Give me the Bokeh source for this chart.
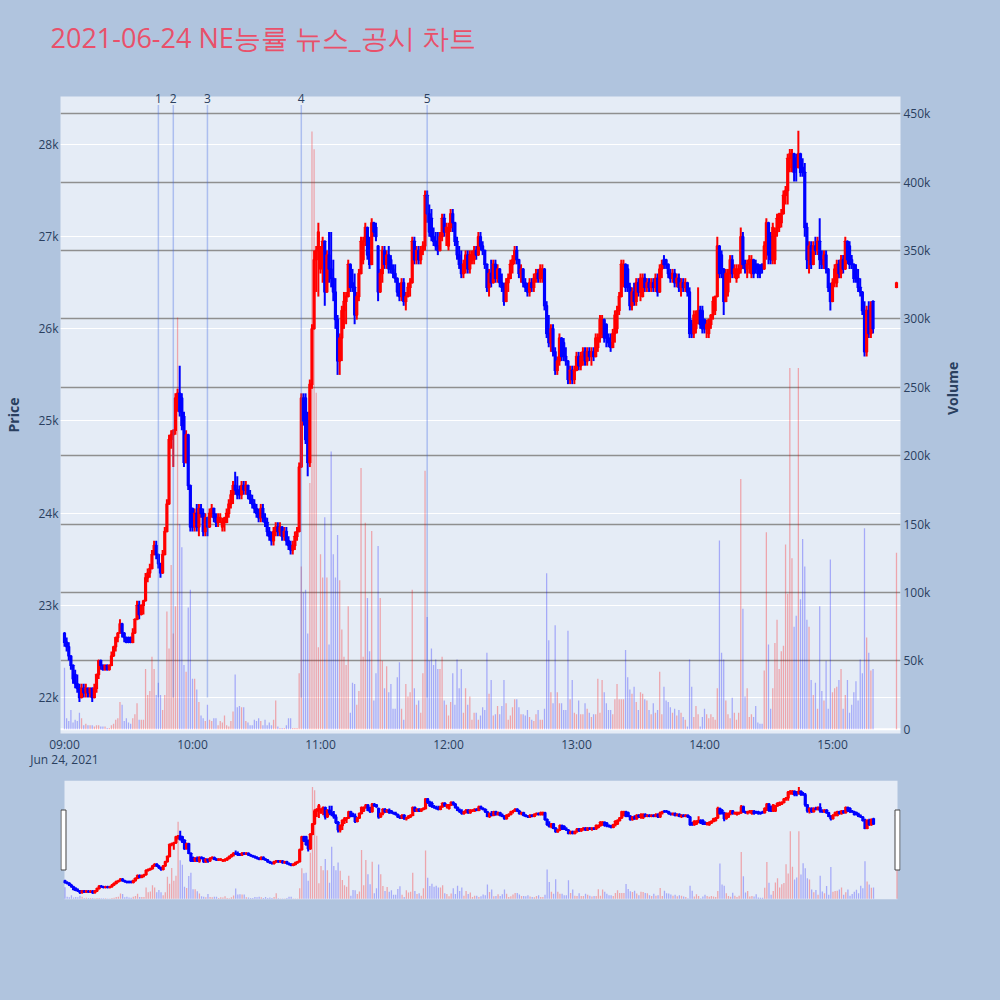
import math
import pandas as pd
from bokeh.plotting import figure
from bokeh.models import (Range1d, LinearAxis, FixedTicker, Grid, DatetimeTickFormatter,
                          ColumnDataSource, BoxAnnotation, Span)
from bokeh.layouts import column
from bokeh.embed import file_html
from bokeh.resources import INLINE

title_text = "2021-06-24 NE능률 뉴스_공시 차트"
trade_date = "2021-06-24"
date_label = "Jun 24, 2021"
session_start = "09:00"

# minute offsets from 09:00 (continuous trading 09:00-15:19, closing auction 15:30)
minute_offsets = list(range(380)) + [390]

opens = [
    22700, 22600, 22550, 22450, 22350, 22250, 22150, 22100, 22000, 22100,
    22050, 22100, 22050, 22100, 22000, 22100, 22250, 22400, 22350, 22300,
    22350, 22300, 22350, 22450, 22550, 22650, 22700, 22800, 22700, 22650,
    22650, 22650, 22600, 22700, 22850, 23000, 22900, 23000, 23050, 23300,
    23350, 23400, 23550, 23650, 23550, 23450, 23350, 23550, 23800, 24100,
    24800, 24850, 24900, 25250, 25300, 25250, 25050, 24550, 24850, 24300,
    24050, 23850, 24000, 23850, 24050, 24000, 23800, 23950, 23850, 24000,
    24050, 23950, 23900, 23900, 23850, 23900, 23900, 24000, 24100, 24200,
    24300, 24250, 24250, 24200, 24300, 24250, 24300, 24200, 24150, 24100,
    24050, 24000, 23950, 24050, 23950, 23900, 23800, 23750, 23700, 23800,
    23850, 23800, 23850, 23750, 23800, 23700, 23650, 23600, 23650, 23750,
    23800, 24500, 25250, 25250, 25000, 24550, 25400, 26000, 26750, 26850,
    26650, 26850, 26950, 26400, 26800, 26650, 26550, 26400, 26100, 25650,
    25900, 26200, 26300, 26350, 26700, 26500, 26450, 26150, 26350, 26600,
    26750, 26950, 27100, 26800, 26700, 27150, 27100, 26900, 26400, 26600,
    26850, 26700, 26800, 26750, 26650, 26600, 26550, 26400, 26350, 26500,
    26300, 26350, 26450, 26500, 26950, 26750, 26850, 26750, 26850, 26900,
    27450, 27250, 27200, 27000, 26950, 26900, 26850, 27000, 27200, 27050,
    26900, 27100, 27250, 27150, 26950, 26800, 26700, 26600, 26700, 26800,
    26650, 26750, 26750, 26850, 26800, 27000, 26900, 26850, 26700, 26450,
    26600, 26500, 26700, 26550, 26650, 26500, 26450, 26300, 26500, 26550,
    26700, 26750, 26850, 26750, 26600, 26650, 26500, 26450, 26400, 26500,
    26450, 26550, 26600, 26550, 26550, 26650, 26250, 25950, 25850, 26000,
    25750, 25550, 25650, 25900, 25850, 25700, 25650, 25450, 25550, 25450,
    25550, 25700, 25600, 25700, 25750, 25650, 25750, 25700, 25750, 25700,
    25800, 25900, 25950, 26100, 26050, 25900, 25850, 25800, 25950, 26000,
    26200, 26350, 26500, 26700, 26650, 26450, 26250, 26400, 26300, 26500,
    26400, 26350, 26550, 26450, 26500, 26450, 26500, 26450, 26550, 26400,
    26650, 26750, 26750, 26700, 26600, 26550, 26600, 26500, 26550, 26450,
    26500, 26450, 26500, 26400, 26050, 25950, 26000, 26100, 26200, 26200,
    26100, 26000, 25950, 26050, 26150, 26200, 26350, 26900, 26800, 26650,
    26300, 26400, 26600, 26750, 26600, 26550, 26600, 26650, 27000, 26700,
    26650, 26700, 26600, 26750, 26700, 26700, 26650, 26700, 26650, 26900,
    27150, 27000, 26750, 26750, 27050, 27100, 27150, 27250, 27450, 27500,
    27850, 27750, 27900, 27850, 27750, 27900, 27750, 27700, 27100, 26750,
    26900, 26700, 26900, 26850, 26950, 26750, 26700, 26800, 26650, 26450,
    26300, 26500, 26500, 26700, 26600, 26750, 26650, 26950, 26900, 26750,
    26700, 26650, 26550, 26450, 26400, 26200, 25750, 26200, 25950, 26300,
    26450,
]

highs = [
    22700, 22650, 22600, 22450, 22350, 22300, 22250, 22150, 22150, 22150,
    22150, 22100, 22100, 22100, 22150, 22250, 22400, 22400, 22350, 22350,
    22350, 22350, 22500, 22550, 22650, 22700, 22850, 22800, 22700, 22650,
    22650, 22650, 22750, 22850, 23050, 23050, 23000, 23050, 23350, 23400,
    23450, 23600, 23700, 23700, 23550, 23450, 23600, 23850, 24150, 24850,
    24900, 24900, 25300, 25350, 25600, 25300, 25100, 24900, 24850, 24300,
    24050, 24050, 24100, 24100, 24100, 24050, 24000, 23950, 24050, 24100,
    24050, 24000, 24000, 24000, 23950, 23950, 24050, 24150, 24250, 24350,
    24450, 24400, 24300, 24350, 24350, 24350, 24300, 24250, 24200, 24150,
    24100, 24050, 24100, 24100, 24000, 23950, 23850, 23800, 23850, 23900,
    23900, 23900, 23850, 23850, 23850, 23750, 23700, 23700, 23800, 23850,
    24550, 25300, 25300, 25300, 25100, 25450, 26050, 26850, 26900, 27150,
    26900, 27000, 26950, 26850, 27050, 27050, 26750, 26550, 26150, 25950,
    26250, 26400, 26400, 26750, 26700, 26650, 26600, 26400, 26650, 27000,
    27000, 27150, 27100, 27000, 27200, 27150, 27150, 26900, 26650, 26900,
    26900, 26850, 26900, 26800, 26700, 26700, 26550, 26500, 26550, 26550,
    26400, 26500, 26550, 27000, 27000, 26900, 26900, 26900, 26950, 27500,
    27500, 27350, 27300, 27100, 27050, 27050, 27050, 27250, 27250, 27150,
    27150, 27300, 27300, 27150, 27000, 26900, 26850, 26750, 26850, 26850,
    26850, 26850, 26900, 26900, 27050, 27050, 26950, 26850, 26700, 26650,
    26750, 26750, 26750, 26700, 26650, 26600, 26500, 26550, 26600, 26750,
    26800, 26900, 26900, 26750, 26700, 26650, 26550, 26500, 26550, 26550,
    26600, 26650, 26650, 26700, 26700, 26650, 26300, 26150, 26050, 26050,
    25800, 25700, 25950, 25900, 25900, 25800, 25650, 25600, 25600, 25600,
    25750, 25750, 25750, 25800, 25800, 25800, 25800, 25800, 25800, 25950,
    25950, 26150, 26150, 26100, 26050, 25950, 25950, 26000, 26200, 26250,
    26400, 26750, 26750, 26700, 26700, 26500, 26450, 26500, 26550, 26550,
    26600, 26600, 26600, 26550, 26550, 26550, 26550, 26600, 26600, 26700,
    26750, 26800, 26750, 26700, 26650, 26650, 26650, 26600, 26600, 26550,
    26550, 26550, 26500, 26450, 26100, 26200, 26200, 26450, 26250, 26250,
    26100, 26100, 26100, 26150, 26350, 26350, 27000, 26900, 26850, 26650,
    26650, 26650, 26800, 26800, 26700, 26700, 26700, 27100, 27050, 26750,
    26750, 26800, 26800, 26750, 26750, 26700, 26700, 26700, 26950, 27200,
    27150, 27050, 27150, 27100, 27250, 27250, 27300, 27500, 27550, 27900,
    27950, 27950, 27900, 27900, 28150, 27900, 27850, 27800, 27150, 26950,
    26950, 26950, 27000, 27000, 27200, 26850, 26850, 26850, 26650, 26500,
    26550, 26700, 26750, 26750, 26800, 26800, 27000, 26950, 26950, 26800,
    26700, 26700, 26650, 26550, 26400, 26300, 26250, 26300, 26300, 26300,
    26500,
]

lows = [
    22550, 22500, 22400, 22300, 22150, 22100, 22050, 21950, 22000, 22000,
    22000, 22000, 22000, 21950, 22000, 22050, 22200, 22300, 22300, 22300,
    22300, 22300, 22350, 22450, 22500, 22600, 22700, 22650, 22600, 22600,
    22600, 22600, 22600, 22700, 22850, 22850, 22900, 22900, 23050, 23250,
    23300, 23400, 23550, 23500, 23400, 23300, 23350, 23550, 23800, 24100,
    24700, 24500, 24850, 25100, 25050, 24900, 24500, 24550, 24250, 23800,
    23800, 23800, 23800, 23750, 23950, 23750, 23750, 23750, 23850, 23950,
    23900, 23850, 23850, 23900, 23800, 23800, 23900, 23950, 24050, 24100,
    24200, 24150, 24150, 24150, 24200, 24200, 24150, 24100, 24050, 24000,
    23950, 23900, 23900, 23900, 23850, 23750, 23700, 23650, 23650, 23750,
    23750, 23750, 23700, 23700, 23650, 23600, 23550, 23550, 23600, 23700,
    23800, 24500, 24950, 24750, 24400, 24500, 25350, 26000, 26400, 26350,
    26600, 26500, 26250, 26400, 26500, 26450, 26300, 26000, 25500, 25500,
    25650, 26000, 26050, 26350, 26400, 26400, 26050, 26100, 26300, 26600,
    26700, 26900, 26750, 26650, 26700, 27000, 26950, 26300, 26400, 26500,
    26650, 26650, 26600, 26600, 26550, 26500, 26350, 26300, 26300, 26250,
    26200, 26350, 26350, 26500, 26700, 26700, 26700, 26700, 26800, 26850,
    27150, 27000, 26950, 26900, 26850, 26800, 26850, 26950, 27000, 26900,
    26850, 27050, 27050, 26900, 26750, 26650, 26550, 26550, 26600, 26600,
    26600, 26700, 26700, 26750, 26800, 26850, 26800, 26650, 26400, 26350,
    26450, 26500, 26500, 26500, 26450, 26400, 26250, 26300, 26400, 26550,
    26600, 26700, 26700, 26550, 26500, 26450, 26400, 26350, 26350, 26400,
    26400, 26500, 26500, 26500, 26500, 26200, 25900, 25800, 25750, 25700,
    25500, 25500, 25600, 25650, 25650, 25600, 25400, 25400, 25400, 25400,
    25550, 25550, 25550, 25600, 25600, 25600, 25650, 25600, 25650, 25700,
    25750, 25850, 25900, 25850, 25800, 25800, 25750, 25800, 25850, 25950,
    26150, 26350, 26450, 26400, 26400, 26200, 26200, 26250, 26250, 26350,
    26300, 26350, 26400, 26400, 26400, 26400, 26400, 26400, 26350, 26400,
    26550, 26650, 26650, 26550, 26500, 26500, 26450, 26450, 26400, 26350,
    26400, 26400, 26350, 25900, 25900, 25900, 25950, 26050, 26000, 25950,
    25950, 25900, 25900, 26000, 26100, 26150, 26350, 26550, 26550, 26150,
    26300, 26350, 26500, 26550, 26550, 26500, 26550, 26600, 26650, 26600,
    26550, 26600, 26550, 26550, 26600, 26550, 26550, 26600, 26650, 26750,
    26700, 26700, 26700, 26700, 27000, 27050, 27100, 27250, 27350, 27350,
    27700, 27700, 27600, 27600, 27750, 27650, 27650, 27000, 26650, 26600,
    26650, 26700, 26800, 26800, 26650, 26650, 26650, 26600, 26400, 26200,
    26300, 26450, 26450, 26550, 26550, 26600, 26650, 26700, 26650, 26650,
    26500, 26500, 26400, 26350, 26150, 25700, 25700, 25900, 25900, 25950,
    26450,
]

closes = [
    22600, 22550, 22450, 22350, 22200, 22150, 22100, 22000, 22100, 22050,
    22100, 22050, 22100, 22000, 22100, 22250, 22400, 22350, 22300, 22350,
    22300, 22350, 22450, 22550, 22650, 22700, 22800, 22700, 22650, 22600,
    22600, 22600, 22700, 22850, 23000, 22900, 23000, 23050, 23300, 23350,
    23400, 23550, 23650, 23550, 23450, 23350, 23550, 23800, 24100, 24800,
    24850, 24900, 25250, 25300, 25100, 24950, 24550, 24850, 24300, 23850,
    23850, 24000, 23850, 24050, 24000, 23800, 23950, 23850, 24000, 24050,
    23950, 23900, 23950, 23950, 23900, 23950, 24000, 24100, 24200, 24300,
    24250, 24200, 24200, 24300, 24250, 24300, 24200, 24150, 24100, 24050,
    24000, 23950, 24050, 23950, 23900, 23800, 23750, 23700, 23800, 23850,
    23800, 23850, 23750, 23800, 23700, 23650, 23600, 23650, 23750, 23800,
    24500, 25250, 25000, 24800, 24550, 25400, 26000, 26750, 26850, 27050,
    26850, 26950, 26400, 26800, 26650, 26550, 26400, 26100, 25650, 25900,
    26200, 26300, 26350, 26700, 26450, 26450, 26150, 26350, 26600, 26950,
    26950, 27100, 26800, 26700, 27150, 27050, 27000, 26400, 26600, 26850,
    26700, 26800, 26650, 26650, 26600, 26550, 26400, 26350, 26500, 26300,
    26350, 26450, 26500, 26950, 26750, 26850, 26750, 26850, 26900, 27450,
    27250, 27050, 27000, 26950, 26900, 26850, 27000, 27200, 27050, 27100,
    27100, 27250, 27150, 26950, 26800, 26700, 26600, 26700, 26800, 26650,
    26800, 26800, 26850, 26800, 27000, 26900, 26850, 26700, 26450, 26600,
    26500, 26700, 26550, 26650, 26500, 26450, 26300, 26500, 26550, 26700,
    26750, 26850, 26750, 26600, 26650, 26500, 26450, 26400, 26500, 26450,
    26550, 26600, 26550, 26650, 26650, 26250, 25950, 25850, 26000, 25750,
    25550, 25650, 25900, 25700, 25700, 25650, 25450, 25550, 25450, 25550,
    25700, 25600, 25700, 25750, 25650, 25750, 25700, 25750, 25700, 25900,
    25900, 26100, 26100, 25900, 25900, 25850, 25800, 25950, 26150, 26200,
    26350, 26700, 26700, 26450, 26450, 26250, 26400, 26300, 26500, 26400,
    26550, 26550, 26450, 26500, 26450, 26500, 26450, 26550, 26400, 26650,
    26700, 26700, 26700, 26600, 26550, 26600, 26500, 26550, 26450, 26500,
    26450, 26500, 26400, 25950, 25950, 26150, 26150, 26200, 26050, 26000,
    26000, 26050, 26100, 26150, 26300, 26350, 26900, 26600, 26650, 26300,
    26600, 26600, 26750, 26600, 26650, 26650, 26650, 27000, 26700, 26650,
    26700, 26750, 26750, 26600, 26650, 26600, 26600, 26650, 26900, 27150,
    26800, 26750, 27100, 27050, 27200, 27250, 27250, 27450, 27500, 27850,
    27900, 27900, 27700, 27750, 27900, 27700, 27700, 27100, 26750, 26900,
    26700, 26900, 26850, 26950, 26750, 26700, 26800, 26650, 26450, 26300,
    26500, 26650, 26700, 26600, 26750, 26650, 26950, 26750, 26700, 26700,
    26550, 26550, 26450, 26400, 26200, 25750, 26200, 25950, 26250, 26000,
    26500,
]

# traded volume per minute, thousands of shares
volume_k = [
    45, 8, 6, 14, 5, 7, 6, 12, 8, 3,
    4, 3, 3, 3, 2, 3, 3, 2, 2, 2,
    1, 1, 3, 4, 7, 8, 20, 18, 6, 8,
    5, 4, 8, 11, 19, 7, 7, 7, 44, 25,
    28, 53, 44, 25, 34, 25, 14, 25, 86, 59,
    120, 70, 90, 301, 150, 133, 47, 42, 89, 102,
    37, 37, 29, 20, 10, 8, 6, 18, 7, 6,
    8, 8, 3, 6, 5, 10, 3, 2, 6, 13,
    40, 16, 17, 16, 16, 6, 5, 3, 3, 7,
    6, 8, 6, 3, 7, 3, 5, 3, 7, 21,
    2, 1, 1, 1, 3, 8, 8, 1, 1, 1,
    41, 119, 100, 102, 70, 180, 437, 424, 246, 60,
    128, 111, 155, 111, 62, 203, 128, 111, 142, 109,
    73, 53, 47, 90, 12, 34, 33, 18, 28, 191,
    53, 151, 96, 57, 145, 21, 41, 134, 96, 50,
    30, 46, 27, 33, 15, 15, 38, 49, 15, 7,
    33, 24, 27, 102, 30, 18, 21, 12, 41, 189,
    82, 50, 59, 47, 51, 44, 44, 53, 21, 18,
    10, 20, 41, 18, 51, 30, 44, 12, 30, 18,
    24, 7, 12, 12, 7, 10, 16, 14, 56, 26,
    36, 10, 11, 17, 11, 17, 36, 19, 7, 10,
    16, 22, 22, 16, 11, 11, 10, 14, 9, 7,
    6, 11, 14, 7, 7, 15, 114, 65, 27, 19,
    76, 27, 19, 19, 14, 14, 72, 22, 36, 12,
    11, 21, 11, 11, 19, 15, 12, 9, 11, 11,
    37, 12, 36, 27, 19, 14, 14, 11, 22, 33,
    22, 22, 22, 58, 38, 29, 26, 31, 20, 14,
    27, 26, 22, 21, 14, 11, 19, 12, 14, 42,
    11, 31, 21, 20, 16, 12, 15, 10, 14, 12,
    9, 7, 2, 51, 31, 9, 17, 11, 2, 9,
    15, 11, 8, 11, 9, 7, 30, 138, 56, 51,
    21, 11, 8, 23, 12, 7, 12, 183, 88, 24,
    30, 9, 11, 9, 17, 5, 4, 4, 43, 144,
    62, 15, 30, 63, 80, 44, 57, 61, 135, 99,
    264, 125, 75, 83, 264, 95, 139, 119, 80, 75,
    36, 25, 34, 15, 90, 28, 21, 50, 15, 124,
    27, 30, 31, 36, 44, 15, 25, 36, 12, 18,
    27, 35, 21, 51, 41, 147, 67, 56, 43, 44,
    129,
]

news_times = ["09:44", "09:51", "10:07", "10:51", "11:50"]
news_labels = ["1", "2", "3", "4", "5"]

hour_ticks = ["09:00", "10:00", "11:00", "12:00", "13:00", "14:00", "15:00"]
price_ticks = [22000, 23000, 24000, 25000, 26000, 27000, 28000]
price_tick_labels = ["22k", "23k", "24k", "25k", "26k", "27k", "28k"]
volume_ticks = [0, 50000, 100000, 150000, 200000, 250000, 300000, 350000, 400000, 450000]
volume_tick_labels = ["0", "50k", "100k", "150k", "200k", "250k", "300k", "350k", "400k", "450k"]

n = len(minute_offsets)
assert len(opens) == n and len(highs) == n and len(lows) == n and len(closes) == n and len(volume_k) == n, \
    (n, len(opens), len(highs), len(lows), len(closes), len(volume_k))

# ---------------------------------------------------------------- helpers
MIN = 60000
BG_PAGE = "#B0C4DE"
BG_PLOT = "#E5ECF6"
FONT_COLOR = "#2a3f5f"
UP, DOWN = "#FF0000", "#0000FF"


def ms(ts):
    return int(ts.value // 1_000_000)


t0 = pd.Timestamp(f"{trade_date} {session_start}")
x0 = ms(t0)
xs = [x0 + m * MIN for m in minute_offsets]
colors = [UP if c >= o else DOWN for o, c in zip(opens, closes)]
vcolors = ["rgba(255,0,0,0.3)" if c == UP else "rgba(0,0,255,0.28)" for c in colors]

src = ColumnDataSource(dict(
    x=xs,
    open=opens, high=highs, low=lows, close=closes,
    top=[max(o, c) for o, c in zip(opens, closes)],
    bottom=[min(o, c) for o, c in zip(opens, closes)],
    color=colors,
    volume=[v * 1000 for v in volume_k],
    vcolor=vcolors,
))

PRICE_LO, PRICE_HI = 21609, 28521
VOL_LO, VOL_HI = -3100, 462500


def draw_series(fig):
    fig.vbar(x="x", width=0.6 * MIN, top="volume", bottom=0, fill_color="vcolor",
             line_color=None, y_range_name="vol", source=src)
    fig.segment(x0="x", y0="low", x1="x", y1="high", line_color="color", line_width=2, source=src)
    fig.vbar(x="x", width=0.55 * MIN, top="top", bottom="bottom", fill_color="color",
             line_color="color", line_width=2, source=src)


def plain_axis(ax):
    ax.axis_line_color = None
    ax.major_tick_line_color = None
    ax.minor_tick_line_color = None
    ax.major_tick_in = 0
    ax.major_tick_out = 0
    ax.major_label_text_font = "Open Sans"
    ax.major_label_text_font_size = "12px"
    ax.major_label_text_color = FONT_COLOR
    ax.axis_label_text_font = "Open Sans"
    ax.axis_label_text_font_size = "14px"
    ax.axis_label_text_font_style = "bold"
    ax.axis_label_text_color = FONT_COLOR


# ---------------------------------------------------------------- main chart
p = figure(width=1000, height=778, x_axis_type="datetime",
           x_range=Range1d(x0 - 1.875 * MIN, x0 + 391.875 * MIN),
           y_range=Range1d(PRICE_LO, PRICE_HI),
           output_backend="svg", toolbar_location=None,
           min_border_left=60, min_border_right=100, min_border_top=96, min_border_bottom=45,
           background_fill_color=BG_PLOT, border_fill_color=BG_PAGE, outline_line_color=None)
p.extra_y_ranges = {"vol": Range1d(VOL_LO, VOL_HI)}

hour_ms = [ms(pd.Timestamp(f"{trade_date} {h}")) for h in hour_ticks]
xa = p.xaxis[0]
xa.ticker = FixedTicker(ticks=hour_ms)
xa.formatter = DatetimeTickFormatter(hours="%H:%M", hourmin="%H:%M", minutes="%H:%M", minsec="%H:%M")
xa.major_label_overrides = {hour_ms[0]: f"{hour_ticks[0]}\n{date_label}"}

ya = p.yaxis[0]
ya.ticker = FixedTicker(ticks=price_ticks)
ya.major_label_overrides = dict(zip(price_ticks, price_tick_labels))
ya.axis_label = "Price"
ya.axis_label_standoff = 12
ya.major_label_standoff = 2

va = LinearAxis(y_range_name="vol", ticker=FixedTicker(ticks=volume_ticks),
                major_label_overrides=dict(zip(volume_ticks, volume_tick_labels)),
                axis_label="Volume")
va.axis_label_standoff = 19
va.major_label_standoff = 3
try:
    va.axis_label_orientation = math.pi / 2
except Exception:
    pass
p.add_layout(va, "right")

# news markers: numbered labels along the top edge
news_x = [ms(pd.Timestamp(f"{trade_date} {t}")) for t in news_times]
na = LinearAxis(ticker=FixedTicker(ticks=news_x),
                major_label_overrides=dict(zip(news_x, news_labels)))
p.add_layout(na, "above")

for ax in (xa, ya, va, na):
    plain_axis(ax)
xa.major_label_standoff = 2
try:
    xa.major_label_text_line_height = 0.9
except Exception:
    pass
na.major_label_standoff = -6
na.axis_label = " "
na.axis_label_text_font_size = "1px"
na.axis_label_standoff = 14

p.title.text = title_text
p.title.text_font = "Open Sans"
p.title.text_font_size = "27px"
p.title.text_font_style = "normal"
p.title.text_color = "#E9506A"
p.title.align = "left"
p.title.offset = -10
p.title.standoff = 33

p.xgrid.visible = False
p.ygrid.grid_line_color = "white"
p.ygrid.grid_line_width = 1
vgrid = Grid(dimension=1, ticker=FixedTicker(ticks=volume_ticks[1:]), y_range_name="vol",
             grid_line_color="#8f8f8f", grid_line_width=1.5)
p.add_layout(vgrid)
p.add_layout(Span(location=0, dimension="width", y_range_name="vol",
                  line_color="white", line_width=2, level="underlay"))

draw_series(p)

news_src = ColumnDataSource(dict(x=news_x, y0=[22000] * len(news_x), y1=[28430] * len(news_x)))
p.segment(x0="x", y0="y0", x1="x", y1="y1", line_color="#4169E1", line_alpha=0.35,
          line_width=1.5, source=news_src)

# ---------------------------------------------------------------- range slider
S0, S1 = -0.25, 390.25          # slider data span (minutes from 09:00)
p2 = figure(width=1000, height=222, x_axis_type="datetime",
            x_range=Range1d(x0 - 2.125 * MIN, x0 + 391.65 * MIN),
            y_range=Range1d(PRICE_LO, PRICE_HI),
            x_axis_location=None, y_axis_location=None,
            output_backend="svg", toolbar_location=None,
            min_border_left=60, min_border_right=100, min_border_top=2, min_border_bottom=101,
            background_fill_color=BG_PAGE, border_fill_color=BG_PAGE, outline_line_color=None)
p2.title.visible = False
p2.extra_y_ranges = {"vol": Range1d(VOL_LO, VOL_HI)}
p2.grid.visible = False
p2.add_layout(BoxAnnotation(left=x0 + S0 * MIN, right=x0 + S1 * MIN,
                            fill_color=BG_PLOT, fill_alpha=1, line_color=None, level="underlay"))
draw_series(p2)
mid = (PRICE_LO + PRICE_HI) / 2
p2.rect(x=[x0 + (S0 - 0.47) * MIN, x0 + S1 * MIN], y=[mid, mid], width=5, height=60,
        width_units="screen", height_units="screen", fill_color="white",
        line_color="#444444", line_width=1)

layout = column(p, p2)
html = file_html(layout, INLINE, title=title_text)
html = html.replace("</head>", "<style>html, body { background-color: #B0C4DE; }</style></head>", 1)
open("out.html", "w").write(html)
